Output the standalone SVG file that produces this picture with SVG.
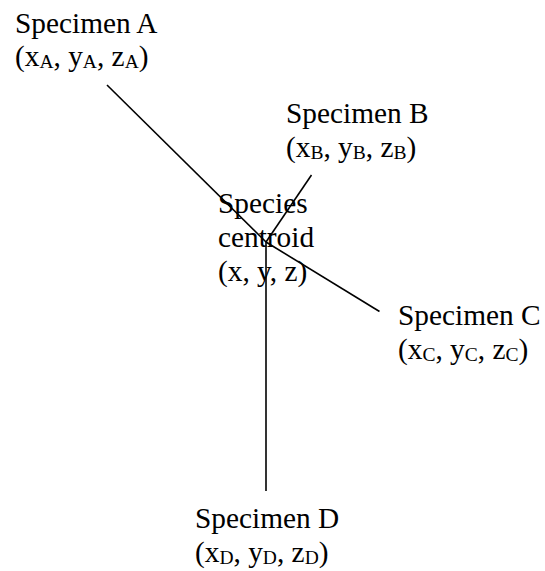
<svg xmlns="http://www.w3.org/2000/svg" width="545" height="571" viewBox="0 0 545 571">
<style>
text { font-family: "Liberation Serif", "Times New Roman", serif; font-size: 29.33px; fill: #000; }
.sub { font-size: 19.5px; }
.conn line { stroke: #000; stroke-width: 1.6; }
</style>
<rect width="545" height="571" fill="#fff"/>
<g id="connectors" class="conn">
<line x1="107" y1="85" x2="266" y2="242"/>
<line x1="311.5" y1="175" x2="266" y2="242"/>
<line x1="379.5" y1="311.5" x2="266" y2="242"/>
<line x1="266" y1="491" x2="266" y2="242"/>
</g>
<g id="specimen-a">
<text x="15" y="33">Specimen A</text>
<text x="15" y="66">(x<tspan class="sub" dy="2">A</tspan><tspan dy="-2">, y</tspan><tspan class="sub" dy="2">A</tspan><tspan dy="-2">, z</tspan><tspan class="sub" dy="2">A</tspan><tspan dy="-2">)</tspan></text>
</g>
<g id="specimen-b">
<text x="286" y="123">Specimen B</text>
<text x="286" y="157">(x<tspan class="sub" dy="2">B</tspan><tspan dy="-2">, y</tspan><tspan class="sub" dy="2">B</tspan><tspan dy="-2">, z</tspan><tspan class="sub" dy="2">B</tspan><tspan dy="-2">)</tspan></text>
</g>
<g id="centroid">
<text x="218" y="213">Species</text>
<text x="218" y="247">centroid</text>
<text x="218" y="281">(x, y, z)</text>
</g>
<g id="specimen-c">
<text x="398" y="325">Specimen C</text>
<text x="398" y="359">(x<tspan class="sub" dy="2">C</tspan><tspan dy="-2">, y</tspan><tspan class="sub" dy="2">C</tspan><tspan dy="-2">, z</tspan><tspan class="sub" dy="2">C</tspan><tspan dy="-2">)</tspan></text>
</g>
<g id="specimen-d">
<text x="195" y="528">Specimen D</text>
<text x="195" y="562">(x<tspan class="sub" dy="2">D</tspan><tspan dy="-2">, y</tspan><tspan class="sub" dy="2">D</tspan><tspan dy="-2">, z</tspan><tspan class="sub" dy="2">D</tspan><tspan dy="-2">)</tspan></text>
</g>
</svg>
